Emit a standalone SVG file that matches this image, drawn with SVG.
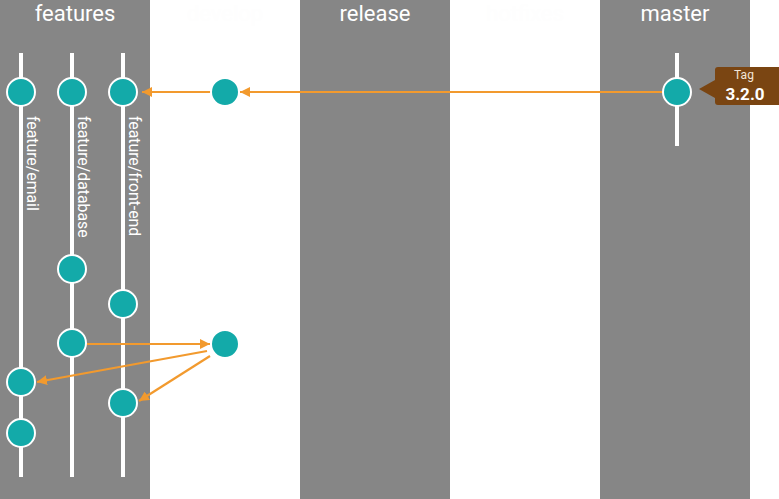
<svg xmlns="http://www.w3.org/2000/svg" width="779" height="499" viewBox="0 0 779 499">
<defs>
<style>
.col{fill:#868686}
.hdr{font-family:Roboto,"Liberation Sans",sans-serif;font-size:22px;fill:#ffffff;text-anchor:middle}
.ghost{font-family:Roboto,"Liberation Sans",sans-serif;font-size:22px;fill:#fefefe;text-anchor:middle}
.branch{stroke:#ffffff;stroke-width:4;fill:none}
.lbl{font-family:Roboto,"Liberation Sans",sans-serif;font-size:15.8px;fill:#ffffff}
.commit{fill:#13aaa9;stroke:#ffffff;stroke-width:2}
.arrow{stroke:#f29a2e;stroke-width:2.2;fill:none;marker-end:url(#ah)}
</style>
<marker id="ah" viewBox="0 0 10 10" refX="10" refY="5" markerWidth="10" markerHeight="10" markerUnits="userSpaceOnUse" orient="auto">
<path d="M0,0 L10,5 L0,10 Z" fill="#f29a2e"/>
</marker>
</defs>
<rect width="779" height="499" fill="#ffffff"/>
<g id="lanes">
<rect class="col" x="0" y="0" width="150" height="499"/>
<rect class="col" x="300" y="0" width="150" height="499"/>
<rect class="col" x="600" y="0" width="150" height="499"/>
<text class="hdr" x="75" y="21">features</text>
<text class="ghost" x="225" y="21">develop</text>
<text class="hdr" x="375" y="21">release</text>
<text class="ghost" x="525" y="21">hotfixes</text>
<text class="hdr" x="675" y="21">master</text>
</g>
<g id="branches">
<line class="branch" x1="21" y1="53" x2="21" y2="477"/>
<line class="branch" x1="72" y1="53" x2="72" y2="477"/>
<line class="branch" x1="123" y1="53" x2="123" y2="477"/>
<line class="branch" x1="677" y1="53" x2="677" y2="146"/>
<text class="lbl" transform="translate(27,116) rotate(90)">feature/email</text>
<text class="lbl" transform="translate(78,116) rotate(90)">feature/database</text>
<text class="lbl" transform="translate(129,116) rotate(90)">feature/front-end</text>
</g>
<g id="connectors">
<line class="arrow" x1="663" y1="92" x2="240" y2="92"/>
<line class="arrow" x1="211" y1="92" x2="142" y2="92"/>
<line class="arrow" x1="87" y1="344" x2="210" y2="344"/>
<line class="arrow" x1="207" y1="351" x2="37" y2="382"/>
<line class="arrow" x1="210" y1="356" x2="139" y2="401"/>
</g>
<g id="c-email-1"><circle class="commit" cx="21" cy="92" r="14"/></g>
<g id="c-db-1"><circle class="commit" cx="72" cy="92" r="14"/></g>
<g id="c-fe-1"><circle class="commit" cx="123" cy="92" r="14"/></g>
<g id="c-dev-1"><circle class="commit" cx="225" cy="92" r="14"/></g>
<g id="c-master-1"><circle class="commit" cx="677" cy="92" r="14"/></g>
<g id="c-db-2"><circle class="commit" cx="72" cy="269" r="14"/></g>
<g id="c-fe-2"><circle class="commit" cx="123" cy="304" r="14"/></g>
<g id="c-db-3"><circle class="commit" cx="72" cy="343" r="14"/></g>
<g id="c-dev-2"><circle class="commit" cx="225" cy="344" r="14"/></g>
<g id="c-email-2"><circle class="commit" cx="21" cy="382" r="14"/></g>
<g id="c-fe-3"><circle class="commit" cx="123" cy="403" r="14"/></g>
<g id="c-email-3"><circle class="commit" cx="21" cy="433" r="14"/></g>
<g id="tag">
<path d="M718,67 H779 V105 H718 Q715,105 715,102 V98 L699,89 L715,80 V70 Q715,67 718,67 Z" fill="#7a4512"/>
<text x="744" y="79" font-family="Roboto,'Liberation Sans',sans-serif" font-size="12" fill="#f3e6d8" text-anchor="middle">Tag</text>
<text x="745" y="100" font-family="Roboto,'Liberation Sans',sans-serif" font-size="17" font-weight="bold" fill="#ffffff" text-anchor="middle">3.2.0</text>
</g>
</svg>
